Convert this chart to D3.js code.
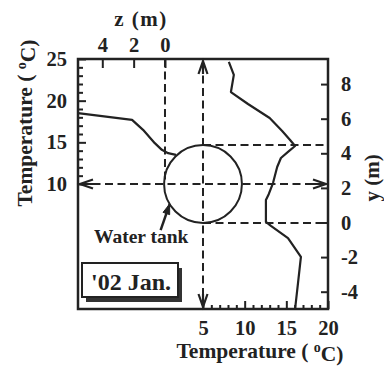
<!DOCTYPE html>
<html>
<head>
<meta charset="utf-8">
<script src="https://cdn.jsdelivr.net/npm/d3@7"></script>
<style>
  html, body { margin: 0; padding: 0; background: #fff; }
  svg { display: block; }
  text { font-family: "Liberation Serif", "Times New Roman", serif; font-weight: bold; fill: #222; }
</style>
</head>
<body>
<svg id="chart" width="384" height="366"></svg>
<script>
// ---- data ----
// Left/top panel: ground temperature vs horizontal distance z from tank
const zValues = [5.55, 2.1, 1.4, 0.65, 0.2, -0.2, -0.7];
const zTemps  = [18.5, 17.7, 16.5, 14.9, 14.1, 13.7, 13.5];
// Right/bottom panel: temperature vs depth y
const yTemps  = [8.1, 8.7, 8.35, 10.4, 13.0, 14.5, 15.45, 16.05, 15.2, 14.35, 13.9, 13.4, 12.9, 12.55, 12.55, 13.15, 15.2, 16.75, 16.4, 16.05];
const yValues = [9.28, 8.53, 7.54, 6.85, 6.04, 5.29, 4.77, 4.42, 4.08, 3.73, 3.21, 2.28, 1.65, 1.30, 0.03, -0.20, -0.90, -1.99, -3.50, -5.0];
// Tank: centre at 5 °C (bottom axis) / 10 °C (left axis), spanning y = 0 .. 4.5 m
const tankCenterTemp = 5, tankCenterLeftTemp = 10, tankYRange = [0, 4.5];
const leftTicks = d3.range(10, 26);
const leftLabels = [10, 15, 20, 25];
const bottomTicks = d3.range(5, 21);
const bottomLabels = [5, 10, 15, 20];
const topTicks = [4, 2, 0];
const rightTicks = [-4, -2, 0, 2, 4, 6, 8];
const labelText = "'02 Jan.";
const tankText = "Water tank";

// ---- layout ----
const L = 78, R = 328, T = 59, B = 309;
const ink = "#222";
const svg = d3.select("#chart");

const xT = d3.scaleLinear().domain([-10, 20]).range([L, R]);     // bottom temperature
const yT = d3.scaleLinear().domain([-5, 25]).range([B, T]);      // left temperature
const xZ = d3.scaleLinear().domain([5.55, -10.4]).range([L, R]); // top z (m)
const yY = d3.scaleLinear().domain([-5, 9.45]).range([B, T]);    // right y (m)

function styleAxis(g) {
  g.select(".domain").remove();
  g.selectAll(".tick line").attr("stroke", ink).attr("stroke-width", 2);
  g.selectAll(".tick text").style("font-size", "20.5px").attr("fill", ink)
    .style("font-family", '"Liberation Serif", "Times New Roman", serif').style("font-weight", "bold");
}
const fmt = d => String(d); // plain hyphen minus as in the original

// left axis
const gl = svg.append("g").attr("transform", `translate(${L},0)`)
  .call(d3.axisLeft(yT).tickValues(leftTicks).tickSize(-5).tickPadding(11)
    .tickFormat(d => leftLabels.includes(d) ? fmt(d) : ""));
styleAxis(gl);
gl.selectAll(".tick line").attr("x2", d => leftLabels.includes(d) ? 8 : 5);

// bottom axis
const gb = svg.append("g").attr("transform", `translate(0,${B})`)
  .call(d3.axisBottom(xT).tickValues(bottomTicks).tickSize(-4).tickPadding(11)
    .tickFormat(d => bottomLabels.includes(d) ? fmt(d) : ""));
styleAxis(gb);
gb.selectAll(".tick line").attr("y2", d => bottomLabels.includes(d) ? -8 : -4);

// top axis
const gt = svg.append("g").attr("transform", `translate(0,${T})`)
  .call(d3.axisTop(xZ).tickValues(topTicks).tickSize(-9).tickPadding(7).tickFormat(fmt));
styleAxis(gt);

// right axis
const gr = svg.append("g").attr("transform", `translate(${R},0)`)
  .call(d3.axisRight(yY).tickValues(rightTicks).tickSize(-7).tickPadding(13).tickFormat(fmt));
styleAxis(gr);

// frame
svg.append("rect").attr("x", L).attr("y", T).attr("width", R - L).attr("height", B - T)
  .attr("fill", "none").attr("stroke", ink).attr("stroke-width", 2.5);

// tank geometry
const cx = xT(tankCenterTemp), cy = yT(tankCenterLeftTemp);
const r = (yY(tankYRange[0]) - yY(tankYRange[1])) / 2;
const dash = "8,4.5";
const dl = (x1, y1, x2, y2) => svg.append("line").attr("x1", x1).attr("y1", y1).attr("x2", x2).attr("y2", y2)
  .attr("stroke", ink).attr("stroke-width", 2).attr("stroke-dasharray", dash);
dl(cx, T + 4, cx, B - 2);
dl(L + 2, cy, R - 2, cy);
dl(xZ(0), T, xZ(0), cy);
dl(cx, cy - r, R, cy - r);
dl(cx, cy + r, R, cy + r);

// open arrowheads
function vhead(x, y, dx, dy) {
  const len = 13, hw = 4.5;
  const px = -dy, py = dx;
  const bx = x - dx * len, by = y - dy * len;
  svg.append("path").attr("d", `M${bx + px * hw},${by + py * hw}L${x},${y}L${bx - px * hw},${by - py * hw}M${x},${y}L${bx},${by}`)
    .attr("fill", "none").attr("stroke", ink).attr("stroke-width", 2.2);
}
vhead(cx, T + 2, 0, -1);
vhead(cx, B - 2, 0, 1);
vhead(L + 2, cy, -1, 0);
vhead(R - 2, cy, 1, 0);

// tank circle
svg.append("circle").attr("cx", cx).attr("cy", cy).attr("r", r)
  .attr("fill", "none").attr("stroke", ink).attr("stroke-width", 2);

// data curves
const lineZ = d3.line().x(d => xZ(d[0])).y(d => yT(d[1]));
svg.append("path").datum(d3.zip(zValues, zTemps)).attr("d", lineZ)
  .attr("fill", "none").attr("stroke", ink).attr("stroke-width", 2.2).attr("stroke-linejoin", "round");
const lineY = d3.line().x(d => xT(d[0])).y(d => yY(d[1]));
svg.append("path").datum(d3.zip(yTemps, yValues)).attr("d", lineY)
  .attr("fill", "none").attr("stroke", ink).attr("stroke-width", 2.2).attr("stroke-linejoin", "round");

// water tank annotation
const ang = 149 * Math.PI / 180;
const tipX = cx + r * Math.cos(ang), tipY = cy + r * Math.sin(ang);
const tailX = tipX - 9, tailY = tipY + 26;
svg.append("line").attr("x1", tailX).attr("y1", tailY).attr("x2", tipX).attr("y2", tipY)
  .attr("stroke", ink).attr("stroke-width", 2.5);
{
  const ux = (tipX - tailX), uy = (tipY - tailY), n = Math.hypot(ux, uy);
  const dx = ux / n, dy = uy / n, px = -dy, py = dx, len = 10, hw = 3.5;
  const bx = tipX - dx * len, by = tipY - dy * len;
  svg.append("path").attr("d", `M${tipX},${tipY}L${bx + px * hw},${by + py * hw}L${bx - px * hw},${by - py * hw}Z`)
    .attr("fill", ink).attr("stroke", ink).attr("stroke-width", 1);
}
svg.append("text").attr("x", 94).attr("y", 243).style("font-size", "19.5px").text(tankText);

// '02 Jan. box with shadow
svg.append("rect").attr("x", 86).attr("y", 268).attr("width", 96).attr("height", 34).attr("fill", "#333");
svg.append("rect").attr("x", 82).attr("y", 263).attr("width", 96).attr("height", 34)
  .attr("fill", "#fff").attr("stroke", ink).attr("stroke-width", 2);
svg.append("text").attr("x", 131).attr("y", 290).attr("text-anchor", "middle").style("font-size", "24px").text(labelText);

// axis titles
svg.append("text").attr("x", 141).attr("y", 26).attr("text-anchor", "middle").style("font-size", "21px")
  .style("letter-spacing", "1.5px").text("z (m)");

function tempTitle(sel) {
  sel.append("tspan").text("Temperature ( ");
  sel.append("tspan").attr("dy", "-0.45em").style("font-size", "14px").text("o");
  sel.append("tspan").attr("dy", "0.45em").text("C)");
}
svg.append("text").attr("text-anchor", "middle").style("font-size", "21.5px")
  .attr("transform", "translate(32,123) rotate(-90)").call(tempTitle);
svg.append("text").attr("x", 260).attr("y", 358).attr("text-anchor", "middle").style("font-size", "21.5px").call(tempTitle);
svg.append("text").attr("text-anchor", "middle").style("font-size", "21px")
  .attr("transform", "translate(379,178) rotate(-90)").text("y (m)");
</script>
</body>
</html>
